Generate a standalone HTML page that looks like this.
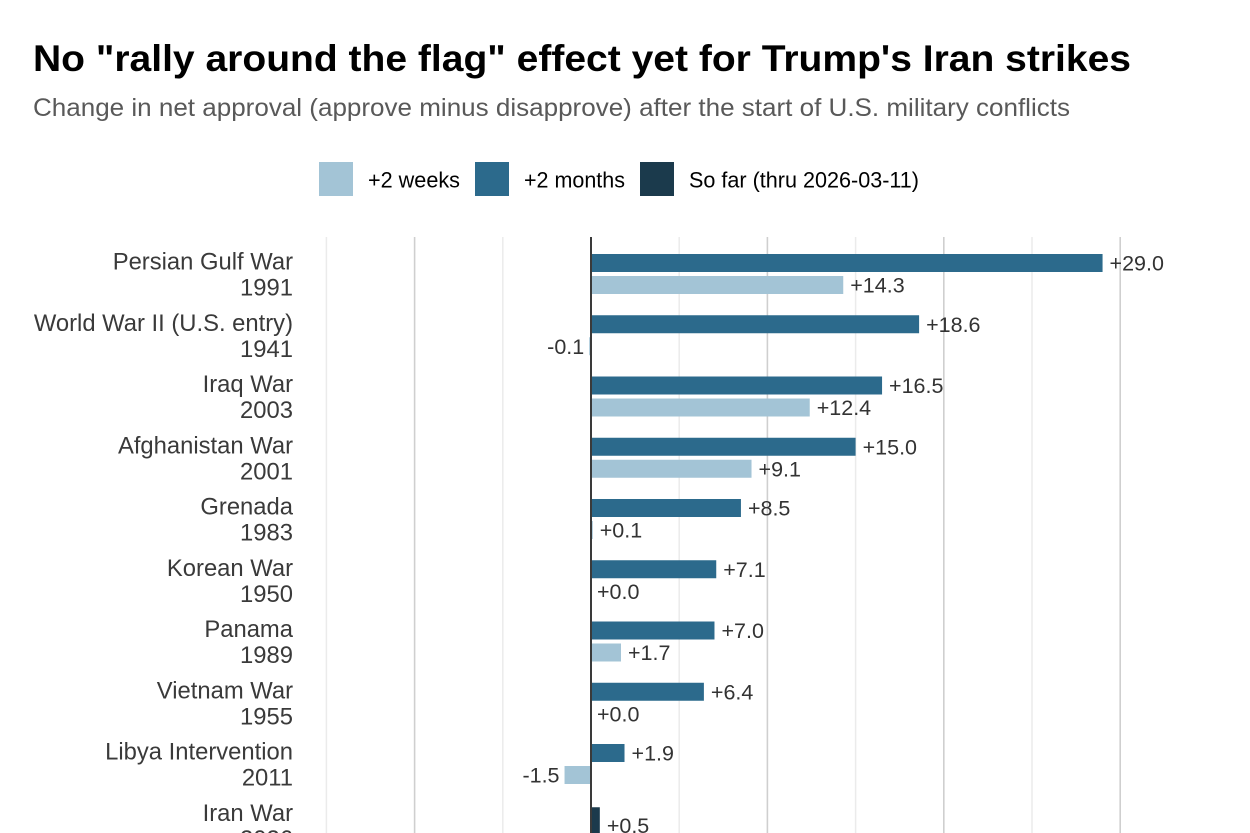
<!DOCTYPE html>
<html lang="en">
<head>
<meta charset="utf-8">
<title>No "rally around the flag" effect yet for Trump's Iran strikes</title>
<style>
html,body{margin:0;padding:0;background:#fff;width:1250px;height:833px;overflow:hidden}
svg{display:block;font-family:"Liberation Sans",Arial,sans-serif}
</style>
</head>
<body>
<svg id="chart" xmlns="http://www.w3.org/2000/svg" width="1250" height="833" viewBox="0 0 1250 833">
  <text x="33" y="71" font-size="37" font-weight="700" fill="#000" textLength="1098" lengthAdjust="spacingAndGlyphs">No "rally around the flag" effect yet for Trump's Iran strikes</text>
  <text x="33" y="116" font-size="25" fill="#595959" textLength="1037" lengthAdjust="spacingAndGlyphs">Change in net approval (approve minus disapprove) after the start of U.S. military conflicts</text>
  <g>
    <g>
      <rect x="319" y="162" width="34" height="34" fill="#a3c4d6"/>
      <text x="368" y="187.5" font-size="22.5" fill="#000" textLength="92" lengthAdjust="spacingAndGlyphs">+2 weeks</text>
    </g>
    <g>
      <rect x="475" y="162" width="34" height="34" fill="#2c6a8c"/>
      <text x="524" y="187.5" font-size="22.5" fill="#000" textLength="101" lengthAdjust="spacingAndGlyphs">+2 months</text>
    </g>
    <g>
      <rect x="640" y="162" width="34" height="34" fill="#1b3a4c"/>
      <text x="689" y="187.5" font-size="22.5" fill="#000" textLength="230" lengthAdjust="spacingAndGlyphs">So far (thru 2026-03-11)</text>
    </g>
  </g>
  <g id="grid"></g>
  <g id="bars"></g>
  <g id="labels"></g>
  <g id="cats"></g>
  <line id="zero" stroke="#3a3a3a" stroke-width="2"></line>
</svg>
<script>
const conflicts = ["Persian Gulf War","World War II (U.S. entry)","Iraq War","Afghanistan War","Grenada","Korean War","Panama","Vietnam War","Libya Intervention","Iran War"];
const years = ["1991","1941","2003","2001","1983","1950","1989","1955","2011","2026"];
const twoMonths = [29.0,18.6,16.5,15.0,8.5,7.1,7.0,6.4,1.9,null];
const twoWeeks = [14.3,-0.1,12.4,9.1,0.1,0.0,1.7,0.0,-1.5,null];
const soFar = [null,null,null,null,null,null,null,null,null,0.5];
const majorTicks = [-10,10,20,30];
const minorTicks = [-15,-5,5,15,25];

const NS = "http://www.w3.org/2000/svg";
const x = v => 591 + v * 17.64;
const rowY = i => 274 + i * 61.25;
const GRID_TOP = 237, GRID_BOTTOM = 833;
const fmt = v => (v < 0 ? "-" : "+") + Math.abs(v).toFixed(1);

function make(tag, attrs, parent) {
  const el = document.createElementNS(NS, tag);
  for (const k in attrs) el.setAttribute(k, attrs[k]);
  parent.appendChild(el);
  return el;
}
const grid = document.getElementById("grid");
const bars = document.getElementById("bars");
const labels = document.getElementById("labels");
const cats = document.getElementById("cats");

minorTicks.forEach(t => {
  const l = make("line", {x1:x(t), x2:x(t), y1:GRID_TOP, y2:GRID_BOTTOM, stroke:"#ebebeb", "stroke-width":1.5}, grid);
  
  
});
majorTicks.forEach(t => {
  const l = make("line", {x1:x(t), x2:x(t), y1:GRID_TOP, y2:GRID_BOTTOM, stroke:"#cfcfcf", "stroke-width":1.6}, grid);
  
  
});

function drawBar(v, cy, h, fill) {
  const r = make("rect", {x:Math.min(x(0), x(v)), y:cy - h / 2, width:Math.abs(x(v) - x(0)), height:h, fill:fill}, bars);
  
  
  const neg = v < 0;
  const pad = (Math.abs(v) < 0.05) ? 6 : 7;
  const t = make("text", {x:x(v) + (neg ? -5 : pad), y:cy + 7.5, "font-size":21.5, fill:"#333", "text-anchor":neg ? "end" : "start"}, labels);
  t.textContent = fmt(v);
  
  
}

conflicts.forEach((name, i) => {
  const cy = rowY(i);
  if (twoMonths[i] !== null) drawBar(twoMonths[i], cy - 11, 18, "#2c6a8c");
  if (twoWeeks[i] !== null) drawBar(twoWeeks[i], cy + 11, 18, "#a3c4d6");
  if (soFar[i] !== null) drawBar(soFar[i], cy, 36, "#1b3a4c");
  const n = make("text", {x:293, y:cy - 4.5, "font-size":23.8, fill:"#3a3a3a", "text-anchor":"end"}, cats);
  n.textContent = name;
  
  
  const y = make("text", {x:293, y:cy + 21.5, "font-size":23.8, fill:"#3a3a3a", "text-anchor":"end"}, cats);
  y.textContent = years[i];
  
  
});

const z = document.getElementById("zero");
z.setAttribute("x1", x(0));
z.setAttribute("x2", x(0));
z.setAttribute("y1", GRID_TOP);
z.setAttribute("y2", GRID_BOTTOM);
</script>
</body>
</html>
